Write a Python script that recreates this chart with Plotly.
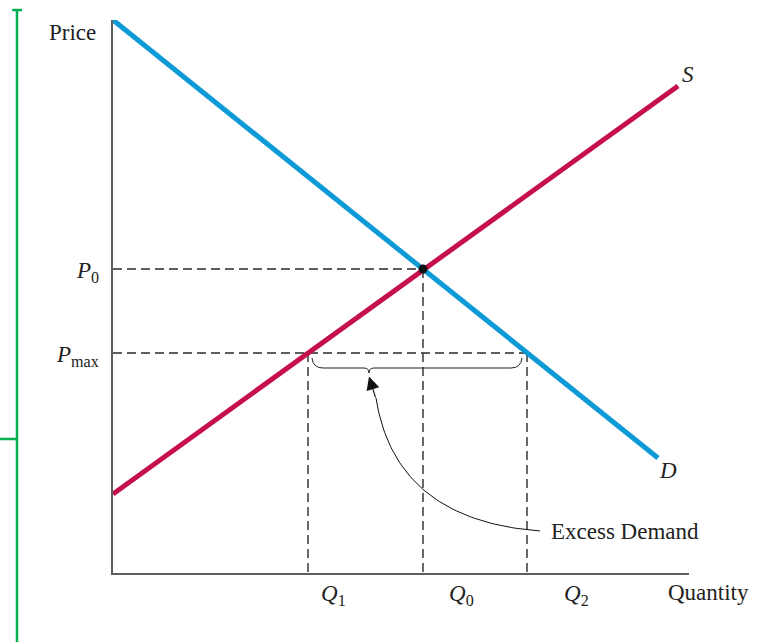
import numpy as np
import plotly.graph_objects as go

# ---------------- data ----------------
demand_q = [0.0, 10.9]
demand_p = [11.06, 2.30]
supply_q = [0.0, 11.3]
supply_p = [1.58, 9.74]

q_names = ["Q1", "Q0", "Q2"]
q_values = [3.9, 6.2, 8.28]
q_labels = ["<i>Q</i><sub>1</sub>", "<i>Q</i><sub>0</sub>", "<i>Q</i><sub>2</sub>"]
p_names = ["P0", "Pmax"]
p_values = [6.08, 4.4]
p_labels = ["<i>P</i><sub>0</sub>", "<i>P</i><sub>max</sub>"]

Q1, Q0, Q2 = q_values
P0, Pmax = p_values

# ---------------- style ----------------
BLUE = "#0d9ad6"
RED = "#c5104b"
TXT = "#222222"
FONT = "Liberation Serif"
FS = 23
X_MAX, Y_MAX = 11.52, 11.06


def px(x):
    return x / X_MAX


def py(y):
    return y / Y_MAX


fig = go.Figure()

# dashed guide lines
dash = dict(color="#2a2a2a", width=1.4, dash="9px,5px")
for xs, ys in [([0, Q0], [P0, P0]), ([Q0, Q0], [P0, 0]),
               ([0, Q2], [Pmax, Pmax]), ([Q1, Q1], [Pmax, 0]), ([Q2, Q2], [Pmax, 0])]:
    fig.add_trace(go.Scatter(x=xs, y=ys, mode="lines", line=dash,
                             hoverinfo="skip", showlegend=False, cliponaxis=False))

# supply and demand
fig.add_trace(go.Scatter(x=supply_q, y=supply_p, mode="lines",
                         line=dict(color=RED, width=5), showlegend=False, cliponaxis=False))
fig.add_trace(go.Scatter(x=demand_q, y=demand_p, mode="lines",
                         line=dict(color=BLUE, width=5), showlegend=False, cliponaxis=False))

# equilibrium point
fig.add_trace(go.Scatter(x=[Q0], y=[P0], mode="markers",
                         marker=dict(color="#111111", size=9), showlegend=False))

# curved pointer from label to brace
tip_x = 5.12
p0 = np.array([8.54, 0.84]); p1 = np.array([5.64, 1.06]); p2 = np.array([5.26, 3.50])
t = np.linspace(0, 1, 60)[:, None]
curve = (1 - t) ** 2 * p0 + 2 * (1 - t) * t * p1 + t ** 2 * p2
fig.add_trace(go.Scatter(x=curve[:, 0], y=curve[:, 1], mode="lines",
                         line=dict(color="#111111", width=1), showlegend=False,
                         hoverinfo="skip"))
fig.add_annotation(x=tip_x, y=3.93, ax=5.26, ay=3.48, xref="x", yref="y",
                   axref="x", ayref="y", text="", showarrow=True,
                   arrowhead=2, arrowsize=2.4, arrowwidth=1.1, arrowcolor="#111111")

# brace under Pmax between Q1 and Q2
bl, br = Q1 + 0.08, Q2 - 0.1
yt, ym, yb = Pmax - 0.10, Pmax - 0.30, Pmax - 0.40
brace = (f"M {bl},{yt} Q {bl+0.02},{ym} {bl+0.22},{ym} L {tip_x-0.1},{ym} "
         f"Q {tip_x},{ym} {tip_x},{yb} Q {tip_x},{ym} {tip_x+0.1},{ym} "
         f"L {br-0.22},{ym} Q {br-0.02},{ym} {br},{yt}")
fig.add_shape(type="path", path=brace, xref="x", yref="y",
              line=dict(color="#222222", width=1))

# green bracket at the left edge
GREEN = "#00b050"
for x0, y0, x1, y1 in [(-0.1667, 1.018, -0.1667, -0.13),
                       (-0.175, 1.018, -0.158, 1.018),
                       (-0.197, 0.2423, -0.1667, 0.2423)]:
    fig.add_shape(type="line", xref="paper", yref="paper", x0=x0, y0=y0, x1=x1, y1=y1,
                  line=dict(color=GREEN, width=2.5))

# text labels (paper coords so they may sit outside the plot area)
f = dict(family=FONT, size=FS, color=TXT)
ann = dict(xref="paper", yref="paper", showarrow=False, font=f, yanchor="middle")
fig.add_annotation(x=px(-0.3), y=py(10.82), text="Price", xanchor="right", **ann)
fig.add_annotation(x=px(11.06), y=py(-0.38), text="Quantity", xanchor="left", **ann)
q_shift = [25, 38, 49]
for qv, lab, sh in zip(q_values, q_labels, q_shift):
    fig.add_annotation(x=px(qv), y=py(-0.44), text=lab, xshift=sh, xanchor="center", **ann)
for pv, lab in zip(p_values, p_labels):
    fig.add_annotation(x=px(-0.24), y=py(pv), text=lab, xanchor="right", yshift=-3, **ann)
fig.add_annotation(x=px(11.5), y=py(9.97), text="<i>S</i>", xanchor="center", **ann)
fig.add_annotation(x=px(11.1), y=py(2.06), text="<i>D</i>", xanchor="center", **ann)
fig.add_annotation(x=px(8.72), y=py(0.84), text="Excess Demand", xanchor="left", **ann)

axis = dict(showgrid=False, zeroline=False, showticklabels=False, ticks="",
            showline=True, linecolor="#5e5e5e", linewidth=2, fixedrange=True)
fig.update_xaxes(range=[0, X_MAX], **axis)
fig.update_yaxes(range=[0, Y_MAX], **axis)
fig.update_layout(width=772, height=642, margin=dict(l=113, r=83, t=20, b=69),
                  plot_bgcolor="white", paper_bgcolor="white", showlegend=False)

fig.write_html("out.html", config={"displayModeBar": False},
               post_script="document.body.style.margin='0px';")
